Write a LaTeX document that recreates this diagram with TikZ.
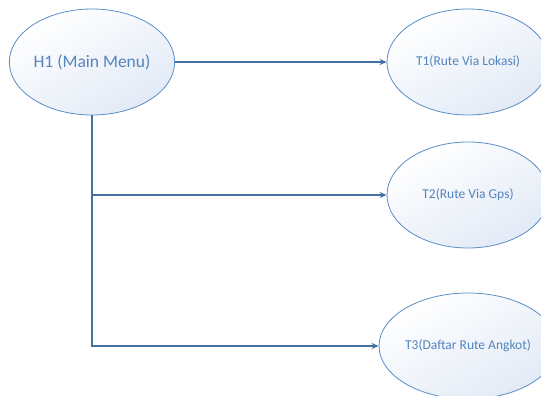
\documentclass[tikz,border=0pt]{standalone}
\usepackage{fontspec}
\setmainfont{Carlito}
\usetikzlibrary{arrows.meta,shapes.geometric}
\definecolor{linecol}{RGB}{66,112,160}
\definecolor{rimcol}{RGB}{91,141,199}
\definecolor{txtcol}{RGB}{84,132,188}
\definecolor{fillcol}{RGB}{226,234,246}
\begin{document}
\begin{tikzpicture}[x=1pt,y=1pt]
    \useasboundingbox (0,0) rectangle (541,396);
    \tikzstyle{every node}=[ellipse, draw=rimcol, line width=0.8pt, top color=white, bottom color=fillcol, shading angle=30, minimum width=162pt, minimum height=106pt, inner sep=0pt, text=txtcol, font=\fontsize{13.5}{16}\selectfont]
    \tikzstyle{edge}=[linecol, line width=1.5pt, -{Stealth[length=7pt,width=6pt]}]

    \node[font=\fontsize{17.5}{20}\selectfont] (h1) at (92,334) {H1 (Main Menu)};
    \node (t1) at (468,334) {T1(Rute Via Lokasi)};
    \node (t2) at (468,201) {T2(Rute Via Gps)};
    \node (t3) at (468,50) {T3(Daftar Rute Angkot)};

    \draw[edge] (h1) -- (t1);
    \draw[edge] (h1.south) |- (t2);
    \draw[edge] (h1.south) |- (t3);
\end{tikzpicture}
\end{document}
